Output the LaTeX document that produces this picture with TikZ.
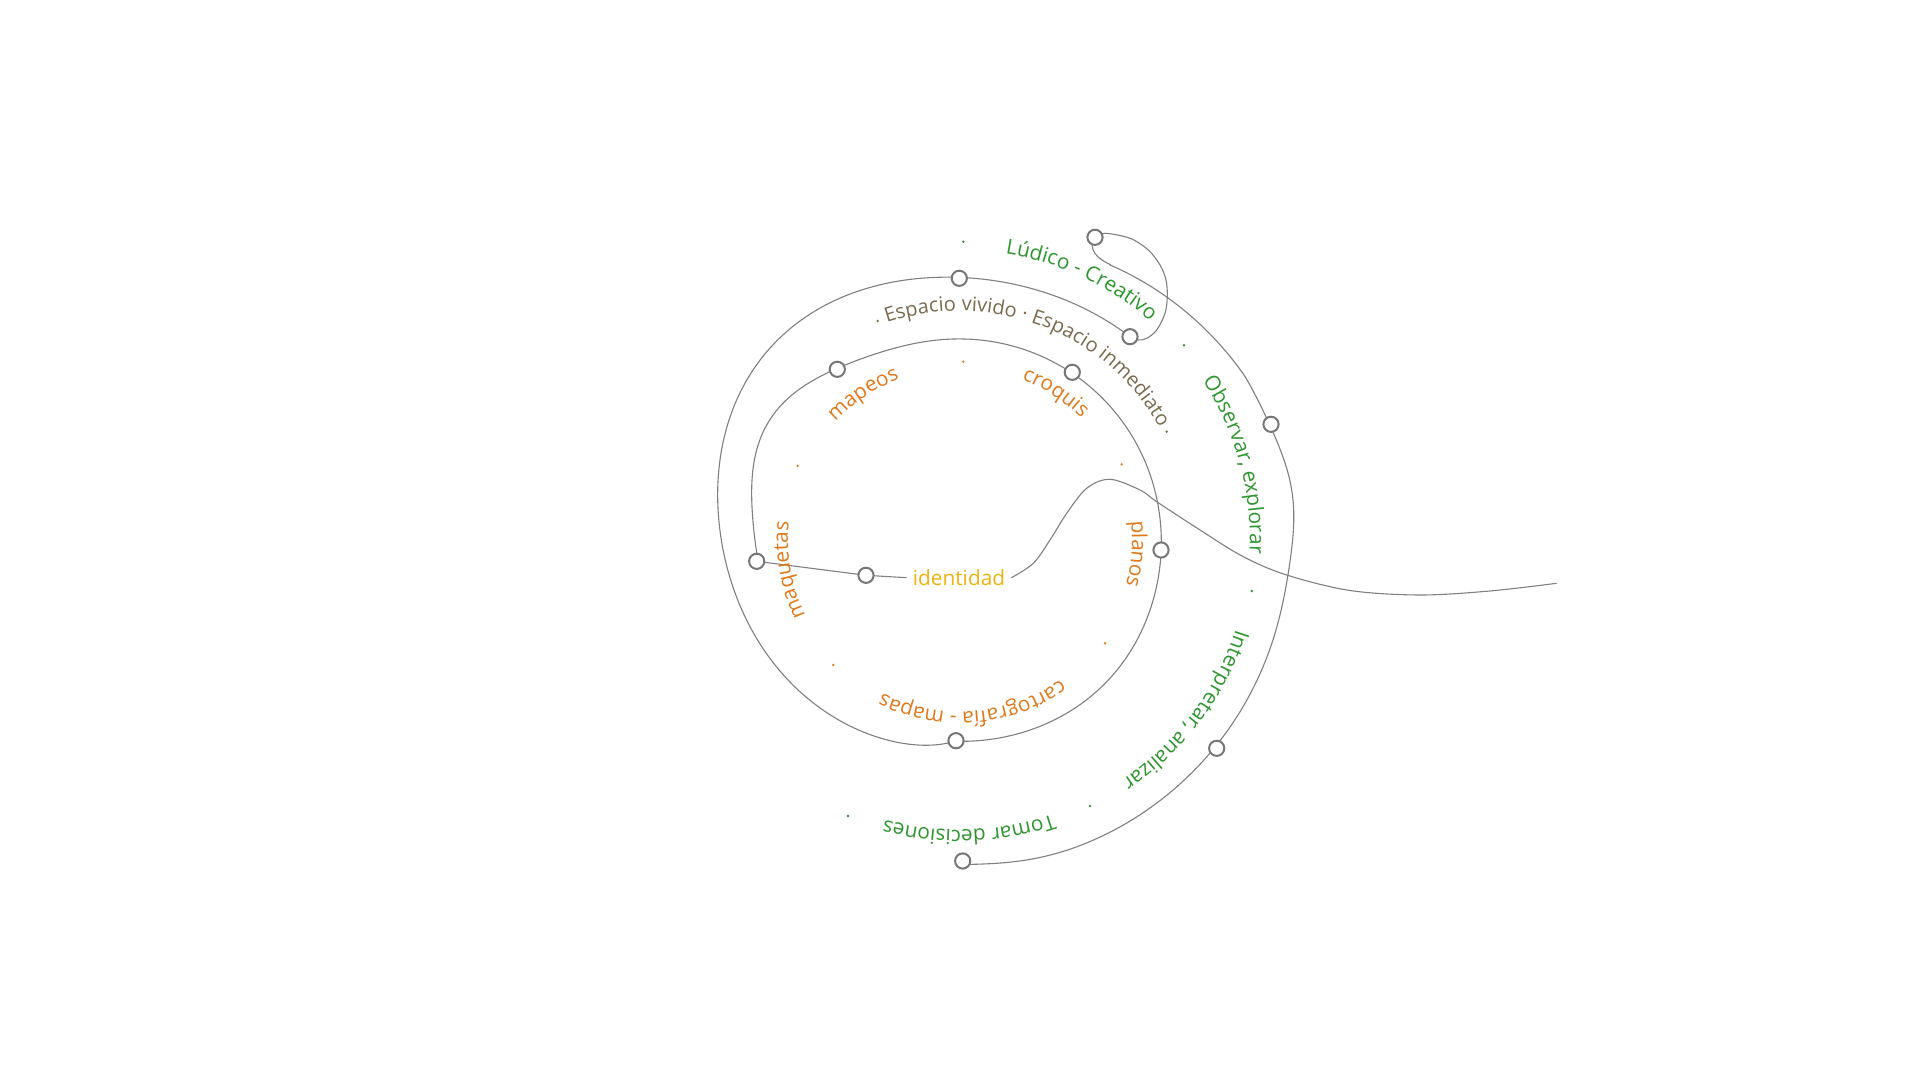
\documentclass[tikz,border=0pt]{standalone}
\usepackage{fontspec}
\setmainfont{Open Sans}
\usetikzlibrary{decorations.text}
\definecolor{cLn}{HTML}{808080}
\definecolor{cKn}{HTML}{777777}
\definecolor{cOr}{HTML}{E0791B}
\definecolor{cGn}{HTML}{2E962E}
\definecolor{cBr}{HTML}{7A6A4F}
\definecolor{cYe}{HTML}{EFB20F}
\newcommand\orf{\fontsize{10.4pt}{12pt}\selectfont\color{cOr}}
\newcommand\grf{\fontsize{10.4pt}{12pt}\selectfont\color{cGn}}
\newcommand\brf{\fontsize{10pt}{12pt}\selectfont\color{cBr}}
\newcommand\ringlabel[4]{%
  \path[decorate, decoration={text along path, text={#4}, text align=center}]
    ({#2+#3}:#1) arc[start angle={#2+#3}, end angle={#2-#3}, radius=#1];}
\begin{document}
\begin{tikzpicture}[x=0.5pt,y=0.5pt,
  thread/.style={draw=cLn, line width=0.55pt},
  knot/.style={circle, draw=cKn, line width=1pt, fill=white, minimum size=7.6pt, inner sep=0pt},
  odot/.style={fill=cOr},
  gdot/.style={fill=cGn},
  bdot/.style={fill=cBr}]
\fill[white] (-960,-540) rectangle (960,540);
\useasboundingbox (-960,-540) rectangle (960,540);

% knot positions
\coordinate (cMaq) at (-203.3,-21.3);
\coordinate (cIdc) at (-94,-35.3);
\coordinate (cMap) at (-122.7,170.7);
\coordinate (cCro) at (112.3,167.7);
\coordinate (cPla) at (201,-10);
\coordinate (cBot) at (-4,-200.7);
\coordinate (cTop) at (-0.7,261.7);
\coordinate (cEsp) at (170,203.3);
\coordinate (cLud) at (135,302.7);
\coordinate (cObs) at (311,115.7);
\coordinate (cInt) at (256.7,-208.3);
\coordinate (cTom) at (2.7,-321);

% centre label
\node[font=\fontsize{10.4pt}{12pt}\selectfont, text=cYe, inner sep=3pt, anchor=base] (idt) at (-1,-45.5) {identidad};

% threads
\draw[thread] (cMaq) -- (cIdc) -- (idt.west);
% inner turn: maquetas -> bottom
\draw[thread] (cMaq) -- plot[domain=186:-91, samples=160, smooth, variable=\t]
  ({\t}:{201+24*exp(-((\t-148)/24)*((\t-148)/24))+3*exp(-((\t+45)/30)*((\t+45)/30))}) -- (cBot);
% outer-left turn: bottom -> top -> Espacio inmediato
\draw[thread] (cBot) -- plot[domain=0:218.9, samples=180, smooth, variable=\p]
  ({-91-\p}:{200.7+8*(1-exp(-\p/8))+0.256*\p+27*exp(-((\p-135)/40)*((\p-135)/40))}) -- (cEsp);
% loop: Espacio inmediato -> Ludico
\draw[thread] plot[smooth, tension=0.55] coordinates {(cEsp) (178.3,200) (186.7,201.7) (196.7,210) (205,226.7) (207.3,243.3) (206,260) (200,275) (188.3,290) (170,301.7) (145,306.7) (cLud)};
% outer right turn: Ludico -> Tomar decisiones
\draw[thread] (cLud) .. controls (127,290) and (138,281) .. (61.4:313.8)
  -- plot[domain=61.4:-89, samples=160, smooth, variable=\t]
  ({\t}:{328.5+7*exp(-((\t-8)/10.95)*((\t-8)/10.95))-15*max(0,\t-30)/31-4*exp(-((\t+89.5)/12)*((\t+89.5)/12))}) -- (cTom);
% identidad thread to the right
\draw[thread] plot[smooth, tension=0.55] coordinates {(idt.east) (73.3,-23.3) (90,0) (106.7,26.7) (126.7,51.7) (150,60.7) (180,50) (196.7,38.3) (240,10) (283.3,-16.7) (326.7,-35) (390,-50.5) (460,-55) (530,-51) (596.7,-43.3)};

% knots
\foreach \c in {Maq,Idc,Map,Cro,Pla,Bot,Top,Esp,Lud,Obs,Int,Tom}
  \node[knot] (n\c) at (c\c) {};

% orange ring
\ringlabel{172}{123.5}{40}{|\orf|mapeos}
\ringlabel{172}{57}{40}{|\orf|croquis}
\ringlabel{172}{-4.5}{40}{|\orf|planos}
\ringlabel{172}{-85.5}{45}{|\orf|cartografía - mapas}
\ringlabel{172}{190}{40}{|\orf|maquetas}
\foreach \p in {(3.3,178.3),(161.7,75.7),(145,-103.3),(-126.7,-125),(-162.3,74)}
  \fill[odot] \p circle[radius=1.3];

% brown ring
\ringlabel{229}{69}{60}{|\brf|Espacio vivido · Espacio inmediato}
\foreach \p in {(-82.3,219),(206.7,108.3)}
  \fill[bdot] \p circle[radius=1.3];

% green ring
\ringlabel{290}{65}{30}{|\grf|Lúdico - Creativo}
\ringlabel{290}{15.3}{30}{|\grf|Observa{r,} explorar}
\ringlabel{290}{-37}{30}{|\grf|Interpreta{r,} analizar}
\ringlabel{290}{-88.2}{30}{|\grf|Tomar decisiones}
\foreach \p in {(3.3,298.3),(224,194.7),(291.7,-51),(130,-266),(-112,-276)}
  \fill[gdot] \p circle[radius=1.3];
\end{tikzpicture}
\end{document}
